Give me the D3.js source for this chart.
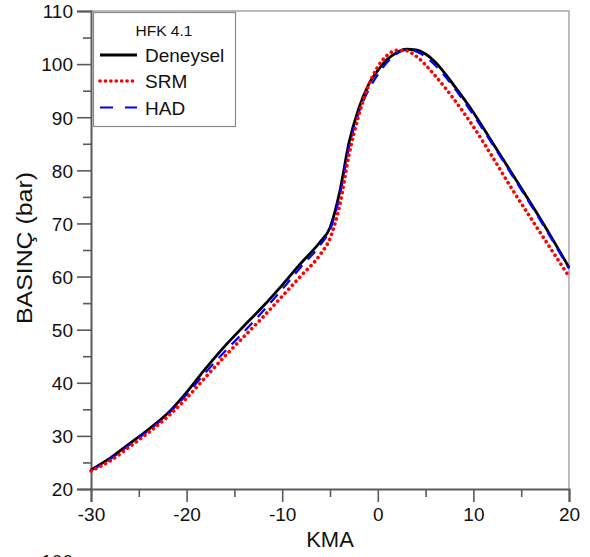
<!DOCTYPE html>
<html>
<head>
<meta charset="utf-8">
<script src="https://cdn.jsdelivr.net/npm/d3@7"></script>
<style>
  html, body { margin: 0; padding: 0; background: #fff; }
  svg { display: block; font-family: "Liberation Sans", Arial, sans-serif; }
</style>
</head>
<body>
<svg id="chart" width="590" height="557"></svg>
<script>
// ---- data ----
const kmaDeneysel = [-30, -28, -26, -24, -22, -20, -18, -16, -14, -12, -10, -8, -6, -5, -4, -3, -2, -1, 0, 1, 2, 3, 4, 5, 6, 8, 10, 12, 14, 16, 18, 20];
const deneysel    = [23.6, 25.8, 28.5, 31.2, 34.2, 38.2, 42.7, 46.9, 50.7, 54.4, 58.4, 62.6, 66.6, 69.2, 75.8, 85.3, 91.6, 96.0, 98.8, 100.9, 102.2, 102.8, 102.7, 101.9, 100.4, 95.9, 90.9, 85.2, 79.5, 73.8, 67.9, 61.7];
const kmaSRM      = [-30, -28, -26, -24, -22, -20, -18, -16, -14, -12, -10, -8, -6, -5, -4, -3, -2, -1, 0, 1, 2, 3, 4, 6, 8, 10, 12, 14, 16, 18, 20];
const srm         = [23.4, 25.3, 27.9, 30.6, 33.6, 37.1, 41.1, 45.0, 48.7, 52.4, 56.3, 60.2, 64.2, 67.2, 73.3, 83.0, 90.3, 95.8, 99.5, 101.7, 102.6, 102.5, 101.5, 97.8, 93.3, 88.2, 82.5, 76.6, 71.0, 65.5, 60.0];
const kmaHAD      = [-30, -28, -26, -24, -22, -20, -18, -16, -14, -12, -10, -8, -6, -5, -4, -3, -2, -1, 0, 1, 2, 3, 4, 6, 8, 10, 12, 14, 16, 18, 20];
const had         = [23.5, 25.6, 28.3, 31.0, 34.0, 37.8, 42.0, 45.9, 49.6, 53.5, 57.6, 61.9, 66.0, 68.8, 75.0, 84.5, 90.8, 95.0, 98.0, 100.4, 102.0, 102.7, 102.4, 99.8, 95.5, 90.4, 84.9, 79.2, 73.5, 67.6, 61.5];
const xTicks = [-30, -20, -10, 0, 10, 20];
const yTicks = [20, 30, 40, 50, 60, 70, 80, 90, 100, 110];
const legendTitle = "HFK 4.1";
const seriesNames = ["Deneysel", "SRM", "HAD"];
const xLabel = "KMA";
const yLabel = "BASINÇ (bar)";

// ---- layout ----
const svg = d3.select("#chart");
const pL = 91, pR = 569, pT = 11, pB = 489;
const x = d3.scaleLinear().domain([-30, 20]).range([pL, pR]);
const y = d3.scaleLinear().domain([20, 110]).range([pB, pT]);
const axisColor = "#5a5a5a";
const fontSize = 19;
const fmt = d => String(d);

// frame (top/right light)
svg.append("path")
  .attr("d", `M${pL},${pT}H${pR}V${pB}`)
  .attr("fill", "none").attr("stroke", "#a6a6a6").attr("stroke-width", 1.5);

// minor ticks
const xMinor = d3.range(-25, 20, 10);
const yMinor = d3.range(25, 110, 10);

const xAxis = svg.append("g").attr("transform", `translate(0,${pB})`)
  .call(d3.axisBottom(x).tickValues(xTicks).tickSize(13).tickPadding(6).tickFormat(fmt));
const xMinorAxis = svg.append("g").attr("transform", `translate(0,${pB})`)
  .call(d3.axisBottom(x).tickValues(xMinor).tickSize(8).tickFormat(""));
const yAxis = svg.append("g").attr("transform", `translate(${pL},0)`)
  .call(d3.axisLeft(y).tickValues(yTicks).tickSize(14).tickPadding(4).tickFormat(fmt));
const yMinorAxis = svg.append("g").attr("transform", `translate(${pL},0)`)
  .call(d3.axisLeft(y).tickValues(yMinor).tickSize(8).tickFormat(""));

[xAxis, xMinorAxis, yAxis, yMinorAxis].forEach(g => {
  g.select(".domain").attr("stroke", axisColor).attr("stroke-width", 2);
  g.selectAll(".tick line").attr("stroke", axisColor).attr("stroke-width", 1.6);
  g.selectAll("text").attr("font-size", fontSize).attr("fill", "#111")
    .attr("font-family", "'Liberation Sans', Arial, sans-serif");
});
xMinorAxis.select(".domain").remove();
yMinorAxis.select(".domain").remove();
xAxis.selectAll(".tick text").attr("dy", "0.71em");
yAxis.selectAll(".tick text").attr("dy", "0.36em");

// cropped label of the next panel below
svg.append("text").attr("x", 73).attr("y", 568).attr("text-anchor", "end")
  .attr("font-size", fontSize).attr("fill", "#111").text(yTicks[8]);

// axis labels
svg.append("text").attr("x", (pL + pR) / 2).attr("y", 547)
  .attr("text-anchor", "middle").attr("font-size", 22).attr("fill", "#111").text(xLabel);
svg.append("text").attr("transform", `translate(32,248) rotate(-90)`)
  .attr("text-anchor", "middle").attr("font-size", 22).attr("fill", "#111")
  .attr("textLength", 152).attr("lengthAdjust", "spacingAndGlyphs").text(yLabel);

// ---- lines ----
const series = [
  { name: seriesNames[0], xs: kmaDeneysel, ys: deneysel, color: "#000", width: 2.8, dash: null, cap: "butt" },
  { name: seriesNames[1], xs: kmaSRM, ys: srm, color: "#ff0000", width: 3.6, dash: "0.1,5.3", cap: "round" },
  { name: seriesNames[2], xs: kmaHAD, ys: had, color: "#0000ff", width: 2.2, dash: "11,8", cap: "butt" }
];
const line = d3.line().x(d => x(d[0])).y(d => y(d[1])).curve(d3.curveMonotoneX);
const drawOrder = [0, 2, 1];
drawOrder.forEach(i => {
  const s = series[i];
  svg.append("path")
    .datum(s.xs.map((v, j) => [v, s.ys[j]]))
    .attr("d", line)
    .attr("fill", "none")
    .attr("stroke", s.color)
    .attr("stroke-width", s.width)
    .attr("stroke-linecap", s.cap)
    .attr("stroke-linejoin", "round")
    .attr("stroke-dasharray", s.dash);
});

// ---- legend ----
const lg = svg.append("g");
lg.append("rect").attr("x", 93.5).attr("y", 12.5).attr("width", 142).attr("height", 114)
  .attr("fill", "#fff").attr("stroke", "#8a8a8a").attr("stroke-width", 1.2);
lg.append("text").attr("x", 164).attr("y", 36).attr("text-anchor", "middle")
  .attr("font-size", 15.5).attr("fill", "#111").text(legendTitle);
const legendY = [55, 81, 107.5];
series.forEach((s, i) => {
  lg.append("line").attr("x1", 100).attr("x2", 137).attr("y1", legendY[i]).attr("y2", legendY[i])
    .attr("stroke", s.color).attr("stroke-width", s.width)
    .attr("stroke-linecap", s.cap)
    .attr("stroke-dasharray", i === 2 ? "13,12" : s.dash);
  lg.append("text").attr("x", 145).attr("y", legendY[i] + 7.3)
    .attr("font-size", fontSize).attr("fill", "#111").text(s.name);
});
</script>
</body>
</html>
